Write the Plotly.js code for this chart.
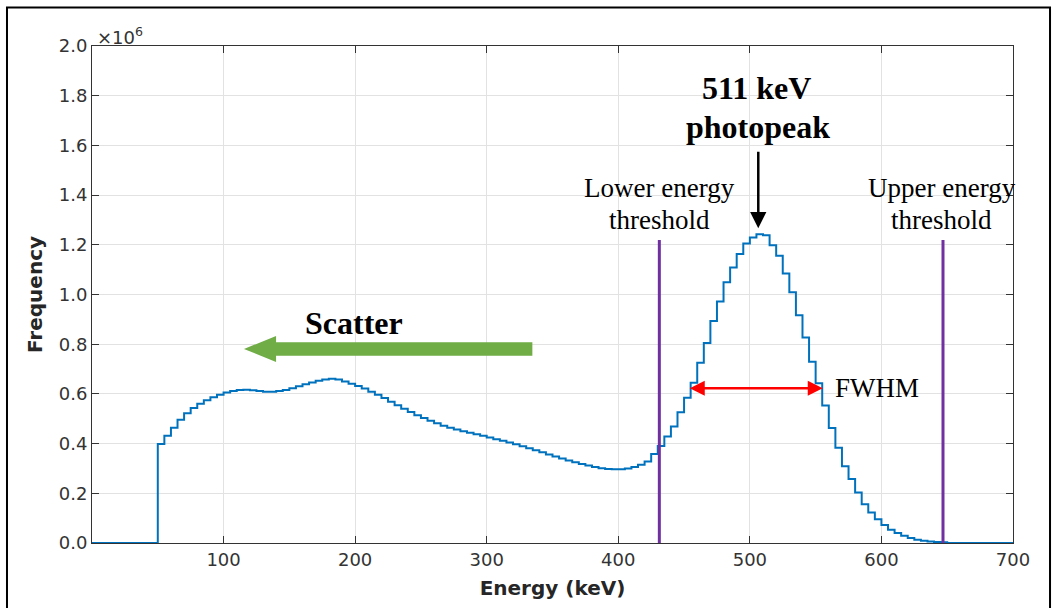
<!DOCTYPE html>
<html>
<head>
<meta charset="utf-8">
<script src="https://cdn.plot.ly/plotly-3.0.1.min.js"></script>
<style>
  html, body { margin: 0; padding: 0; background: #ffffff; }
  #chart { width: 1057px; height: 608px; }
</style>
</head>
<body>
<div id="chart"></div>
<script>
// Histogram bin edges (keV), 5 keV bins
const binEdges = [50,55,60,65,70,75,80,85,90,95,100,105,110,115,120,125,130,135,140,145,
  150,155,160,165,170,175,180,185,190,195,200,205,210,215,220,225,230,235,240,245,
  250,255,260,265,270,275,280,285,290,295,300,305,310,315,320,325,330,335,340,345,
  350,355,360,365,370,375,380,385,390,395,400,405,410,415,420,425,430,435,440,445,
  450,455,460,465,470,475,480,485,490,495,500,505,510,515,520,525,530,535,540,545,
  550,555,560,565,570,575,580,585,590,595,600,605,610,615,620,625,630,635,640,645,650];

// Counts per bin, in units of 10^6
const frequency = [0.398,0.432,0.464,0.496,0.522,0.543,0.560,0.574,0.587,0.597,
  0.606,0.612,0.616,0.617,0.615,0.612,0.609,0.609,0.612,0.616,
  0.623,0.631,0.639,0.646,0.653,0.658,0.661,0.658,0.650,0.641,
  0.632,0.622,0.609,0.597,0.583,0.568,0.554,0.540,0.527,0.514,
  0.503,0.492,0.482,0.472,0.464,0.457,0.450,0.444,0.438,0.432,
  0.425,0.418,0.411,0.404,0.397,0.389,0.381,0.373,0.365,0.356,
  0.348,0.340,0.332,0.325,0.318,0.312,0.306,0.301,0.298,0.297,
  0.297,0.300,0.306,0.315,0.328,0.358,0.390,0.429,0.469,0.526,
  0.585,0.645,0.725,0.805,0.893,0.972,1.049,1.109,1.163,1.205,
  1.229,1.242,1.238,1.198,1.156,1.085,1.009,0.916,0.827,0.729,
  0.643,0.553,0.463,0.383,0.309,0.258,0.203,0.156,0.123,0.096,
  0.072,0.053,0.040,0.029,0.020,0.013,0.009,0.006,0.004,0.003];

const axisRange = [0, 700];
const xTicks = [100, 200, 300, 400, 500, 600, 700];
const yTicks = [0, 0.2, 0.4, 0.6, 0.8, 1.0, 1.2, 1.4, 1.6, 1.8, 2.0];
const yTickText = ['0.0','0.2','0.4','0.6','0.8','1.0','1.2','1.4','1.6','1.8','2.0'];

const thresholds = [431.2, 646.8];   // lower / upper energy threshold (keV)
const thresholdTop = 1.219;
const photopeak = 506.4;
const fwhmRange = [453.2, 555.4];
const fwhmLevel = 0.623;

// Build step (stairs) line
const stepX = [axisRange[0]];
const stepY = [0];
for (let i = 0; i < frequency.length; i++) { stepX.push(binEdges[i]); stepY.push(frequency[i]); }
stepX.push(binEdges[binEdges.length - 1]); stepY.push(0);
stepX.push(axisRange[1]); stepY.push(0);

const traces = [
  {
    x: stepX, y: stepY, type: 'scatter', mode: 'lines',
    line: { shape: 'hv', color: '#0072BD', width: 2 },
    cliponaxis: false, hoverinfo: 'skip', showlegend: false
  },
  {
    x: [thresholds[0], thresholds[0]], y: [0, thresholdTop], type: 'scatter', mode: 'lines',
    line: { color: '#7030A0', width: 3 }, showlegend: false, hoverinfo: 'skip'
  },
  {
    x: [thresholds[1], thresholds[1]], y: [0, thresholdTop], type: 'scatter', mode: 'lines',
    line: { color: '#7030A0', width: 3 }, showlegend: false, hoverinfo: 'skip'
  }
];

const serif = 'Liberation Serif, Times New Roman, serif';
const sans = 'DejaVu Sans, sans-serif';

const layout = {
  width: 1057, height: 608,
  margin: { l: 92, r: 44, t: 45.5, b: 64.5 },
  paper_bgcolor: '#ffffff', plot_bgcolor: '#ffffff',
  showlegend: false,
  xaxis: {
    range: axisRange, tickvals: xTicks, ticktext: xTicks.map(String),
    showgrid: true, gridcolor: '#e2e2e2', gridwidth: 1,
    zeroline: false, showline: true, linecolor: '#333333', linewidth: 1, mirror: 'ticks',
    ticks: 'inside', ticklen: 7, tickcolor: '#333333',
    tickfont: { family: sans, size: 18, color: '#333333' },
    title: { text: '<b>Energy (keV)</b>', font: { family: sans, size: 20, color: '#262626' }, standoff: 12 }
  },
  yaxis: {
    range: [0, 2.0], tickvals: yTicks, ticktext: yTickText,
    showgrid: true, gridcolor: '#e2e2e2', gridwidth: 1,
    zeroline: false, showline: true, linecolor: '#333333', linewidth: 1, mirror: 'ticks',
    ticks: 'inside', ticklen: 7, tickcolor: '#333333',
    tickfont: { family: sans, size: 18, color: '#333333' },
    title: { text: '<b>Frequency</b>', font: { family: sans, size: 20, color: '#262626' }, standoff: 10 }
  },
  shapes: [
    { type: 'rect', xref: 'paper', yref: 'paper', x0: -0.0923, x1: 1.0402, y0: -0.2, y1: 1.0773,
      line: { color: '#000000', width: 2 }, fillcolor: 'rgba(0,0,0,0)', layer: 'above' },
    { type: 'path', xref: 'x', yref: 'y',
      path: 'M 139.9 0.808 L 334.7 0.808 L 334.7 0.754 L 139.9 0.754 L 139.9 0.728 L 115.5 0.781 L 139.9 0.833 Z',
      fillcolor: '#70AD47', line: { width: 0 } }
  ],
  annotations: [
    { xref: 'paper', yref: 'paper', x: 0.003, y: 1.021, xanchor: 'left', yanchor: 'middle',
      text: '×10<sup>6</sup>', showarrow: false, font: { family: sans, size: 18, color: '#333333' } },
    { x: 505.4, y: 1.829, text: '<b>511 keV</b>', showarrow: false,
      font: { family: serif, size: 32, color: '#000000' }, xanchor: 'center', yanchor: 'middle' },
    { x: 506.2, y: 1.673, text: '<b>photopeak</b>', showarrow: false,
      font: { family: serif, size: 32, color: '#000000' }, xanchor: 'center', yanchor: 'middle' },
    { x: 431.7, y: 1.428, text: 'Lower energy', showarrow: false,
      font: { family: serif, size: 27, color: '#000000' }, xanchor: 'center', yanchor: 'middle' },
    { x: 431.7, y: 1.300, text: 'threshold', showarrow: false,
      font: { family: serif, size: 27, color: '#000000' }, xanchor: 'center', yanchor: 'middle' },
    { x: 646, y: 1.428, text: 'Upper energy', showarrow: false,
      font: { family: serif, size: 27, color: '#000000' }, xanchor: 'center', yanchor: 'middle' },
    { x: 646, y: 1.300, text: 'threshold', showarrow: false,
      font: { family: serif, size: 27, color: '#000000' }, xanchor: 'center', yanchor: 'middle' },
    { x: 199.1, y: 0.886, text: '<b>Scatter</b>', showarrow: false,
      font: { family: serif, size: 32, color: '#000000' }, xanchor: 'center', yanchor: 'middle' },
    { x: 596.6, y: 0.624, text: 'FWHM', showarrow: false,
      font: { family: serif, size: 27, color: '#000000' }, xanchor: 'center', yanchor: 'middle' },
    { x: photopeak, y: 1.267, ax: photopeak, ay: 1.580, axref: 'x', ayref: 'y',
      text: '', showarrow: true, arrowhead: 2, arrowsize: 1.3, arrowwidth: 2.5, arrowcolor: '#000000', standoff: 0 },
    { x: fwhmRange[1], y: fwhmLevel, ax: fwhmRange[0], ay: fwhmLevel, axref: 'x', ayref: 'y',
      text: '', showarrow: true, arrowside: 'end+start', arrowhead: 2, arrowsize: 1.2, arrowwidth: 2.5,
      arrowcolor: '#FF0000', standoff: 0, startstandoff: 0 }
  ]
};

Plotly.newPlot('chart', traces, layout, { staticPlot: true, displayModeBar: false });
</script>
</body>
</html>
